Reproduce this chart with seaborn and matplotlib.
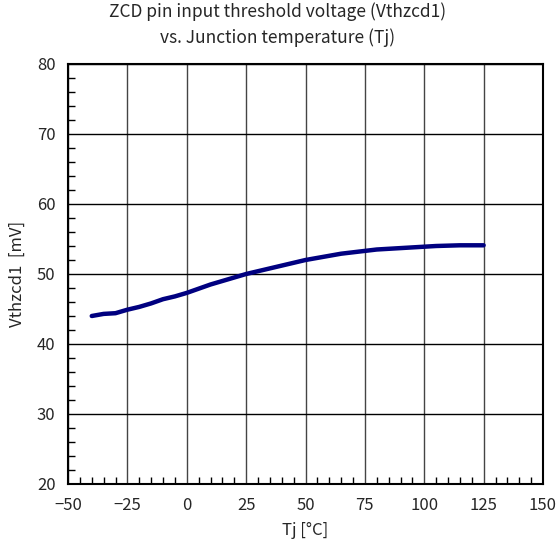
import matplotlib
matplotlib.use("Agg")
import matplotlib.pyplot as plt
import seaborn as sns
import pandas as pd
from matplotlib.ticker import MultipleLocator

tj = [-40, -35, -30, -25, -20, -15, -10, -5, 0, 5, 10, 15, 20, 25, 30, 35, 40,
      45, 50, 55, 60, 65, 70, 75, 80, 85, 90, 95, 100, 105, 110, 115, 120, 125]
vth = [44.0, 44.3, 44.4, 44.9, 45.3, 45.8, 46.4, 46.8, 47.3, 47.9, 48.5, 49.0,
       49.5, 50.0, 50.4, 50.8, 51.2, 51.6, 52.0, 52.3, 52.6, 52.9, 53.1, 53.3,
       53.5, 53.6, 53.7, 53.8, 53.9, 54.0, 54.05, 54.1, 54.1, 54.1]

title = "ZCD pin input threshold voltage (Vthzcd1)\nvs. Junction temperature (Tj)"
xlabel = "Tj [°C]"
ylabel = "Vthzcd1  [mV]"

df = pd.DataFrame({"Tj": tj, "Vth": vth})

sns.set_style("white")
plt.rcParams['font.family'] = ['Noto Sans CJK JP', 'DejaVu Sans']

fig = plt.figure(figsize=(5.56, 5.58), dpi=100)
ax = fig.add_axes([68/556, 1-484/558, (543-68)/556, (484-64)/558])

sns.lineplot(data=df, x="Tj", y="Vth", ax=ax, color="#000080", linewidth=3.2)

ax.set_xlim(-50, 150)
ax.set_ylim(20, 80)
ax.xaxis.set_major_locator(MultipleLocator(25))
ax.yaxis.set_major_locator(MultipleLocator(10))
ax.xaxis.set_minor_locator(MultipleLocator(5))
ax.yaxis.set_minor_locator(MultipleLocator(2))

ax.grid(True, which="major", axis="x", color="#444444", linewidth=1.0)
ax.grid(True, which="major", axis="y", color="#000000", linewidth=1.0)
ax.set_axisbelow(True)

ax.tick_params(axis="both", which="both", bottom=True, left=True, top=False, right=False)
ax.tick_params(axis="both", which="major", direction="in", length=0, labelsize=12, pad=9)
ax.tick_params(axis="both", which="minor", direction="in", length=5, width=1, color="black")

for s in ax.spines.values():
    s.set_color("black")
    s.set_linewidth(1.5)
    s.set_visible(True)

ax.set_xlabel(xlabel, fontsize=12, labelpad=6)
ax.set_ylabel(ylabel, fontsize=12, labelpad=8)
fig.suptitle(title, fontsize=12.5, y=0.995, linespacing=1.45)

fig.savefig("out.png", dpi=100)
